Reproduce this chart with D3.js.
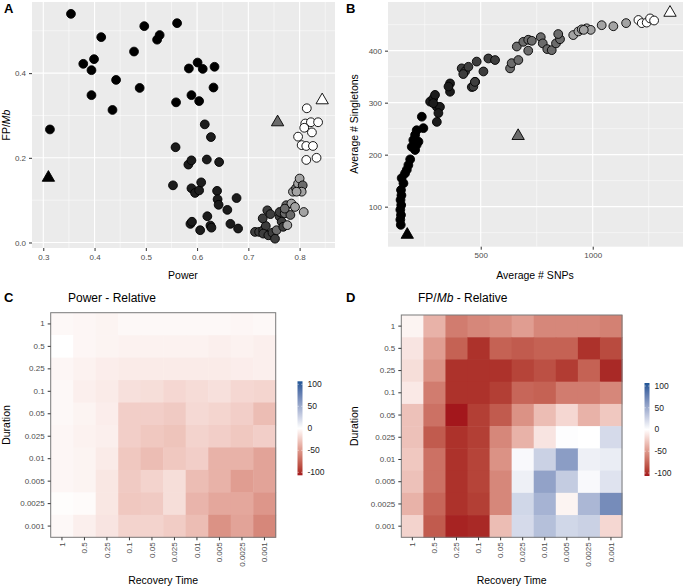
<!DOCTYPE html>
<html><head><meta charset="utf-8">
<script src="https://cdn.jsdelivr.net/npm/d3@7"></script>
<style>
body{margin:0;background:#fff;}
svg{font-family:"Liberation Sans",Arial,sans-serif;}
</style></head>
<body><svg id="c" width="686" height="588"></svg>
<script>
// ---------- Panel A data (Power vs FP/Mb) ----------
const powerA = [0.354,0.313,0.413,0.378,0.399,0.394,0.394,0.442,0.435,0.477,0.488,0.497,0.527,0.522,0.561,0.584,0.601,0.611,0.634,0.559,0.589,0.604,0.632,
  0.615,0.627,0.558,0.583,0.589,0.619,0.643,0.553,0.589,0.596,0.604,0.608,0.639,0.640,0.642,0.659,0.677,0.587,0.590,0.620,0.606,0.626,0.628,0.665,0.680,
  0.713,0.721,0.729,0.734,0.728,0.737,0.743,0.729,0.739,0.747,0.752,0.755,0.761,0.765,0.768,0.761,
  0.771,0.782,0.776,0.774,0.784,0.791,0.771,
  0.787,0.793,0.797,0.800,0.806,0.804,0.794,0.808,
  0.814,0.811,0.822,0.836,0.809,0.824,0.797,0.804,0.813,0.826,0.813,0.833];
const fpA = [0.540,0.267,0.485,0.422,0.433,0.407,0.348,0.384,0.313,0.451,0.365,0.511,0.490,0.479,0.518,0.411,0.425,0.410,0.415,0.331,0.348,0.334,0.366,
  0.279,0.249,0.225,0.184,0.194,0.196,0.190,0.135,0.128,0.117,0.123,0.142,0.122,0.102,0.089,0.077,0.105,0.044,0.049,0.062,0.029,0.040,0.035,0.044,0.033,
  0.025,0.025,0.029,0.039,0.057,0.076,0.067,0.021,0.017,0.023,0.009,0.029,0.061,0.049,0.037,0.072,
  0.069,0.065,0.041,0.088,0.092,0.084,0.080,
  0.120,0.128,0.139,0.151,0.135,0.120,0.120,0.072,
  0.317,0.281,0.284,0.284,0.271,0.260,0.250,0.230,0.228,0.228,0.195,0.200];
const groupA = [0,0,0,0,0,0,0,0,0,0,0,0,0,0,0,0,0,0,0,0,0,0,0,
  1,1,1,1,1,1,1,1,1,1,1,1,1,1,1,1,1,1,1,1,1,1,1,1,1,
  2,2,2,2,2,2,2,2,2,2,2,3,2,2,2,2,
  3,3,4,3,4,4,3,
  4,3,4,4,3,4,4,4,
  5,5,5,5,5,5,5,5,5,5,5,5];
const triPowerA = [0.310,0.757,0.844];
const triFpA = [0.153,0.284,0.336];
const triGroup = [0,3,5];

// ---------- Panel B data (Average # SNPs vs Average # Singletons) ----------
const snpsB = [143,141,144,141,145,142,146,144,155,147,162,170,177,185,192,207,214,199,207,214,222,244,237,
  274,288,296,304,318,311,304,288,363,363,356,
  415,430,422,445,482,534,564,512,475,460,467,474,
  631,638,668,661,690,712,728,712,768,777,797,817,836,854,846,
  913,936,951,973,991,960,1040,1092,1149,
  1204,1219,1241,1256,1274];
const singB = [65,75,84,94,103,113,122,132,145,155,164,171,180,191,215,209,219,228,238,247,225,251,273,
  302,308,315,292,292,280,263,299,337,321,331,
  366,360,355,369,379,385,382,360,340,330,331,340,
  366,376,382,408,417,421,419,400,426,414,403,401,414,422,432,
  430,437,441,443,440,440,449,447,453,
  459,453,454,462,458];
const groupB = [0,0,0,0,0,0,0,0,0,0,0,0,0,0,0,0,0,0,0,0,0,0,0,
  1,1,1,1,1,1,1,1,1,1,1,
  2,2,2,2,2,2,2,2,2,2,2,2,
  3,3,3,3,3,3,3,3,3,3,3,3,3,3,3,
  4,4,4,4,4,4,4,4,4,
  5,5,5,5,5];
const triSnpsB = [172,667,1345];
const triSingB = [46,236,473];

// ---------- Heatmaps ----------
const recovery = ["1","0.5","0.25","0.1","0.05","0.025","0.01","0.005","0.0025","0.001"];
const duration = ["1","0.5","0.25","0.1","0.05","0.025","0.01","0.005","0.0025","0.001"];
const powerRel = [
  [-3,-4,-5,-3,-3,-3,-3,-3,-4,-3],
  [0,-4,-5,-6,-6,-6,-6,-7,-6,-7],
  [-4,-6,-8,-9,-9,-9,-9,-9,-8,-7],
  [-3,-7,-9,-14,-15,-18,-16,-14,-18,-19],
  [-3,-5,-8,-22,-22,-24,-17,-19,-22,-30],
  [-4,-6,-7,-22,-25,-27,-20,-22,-25,-22],
  [-4,-5,-9,-25,-30,-25,-22,-35,-35,-42],
  [-4,-5,-11,-24,-20,-15,-30,-35,-45,-42],
  [-1,-2,-11,-25,-24,-15,-34,-40,-40,-48],
  [-3,-7,-12,-20,-20,-23,-30,-50,-42,-55]];
const fpRel = [
  [-5,-35,-60,-55,-52,-45,-55,-55,-55,-58],
  [-12,-45,-72,-92,-72,-75,-72,-72,-92,-82],
  [-15,-50,-92,-92,-92,-85,-80,-88,-72,-95],
  [-10,-60,-92,-92,-87,-70,-72,-60,-60,-55],
  [-28,-65,-100,-87,-75,-50,-30,-18,-35,-25],
  [-28,-75,-92,-87,-55,-35,-12,1,0,20],
  [-25,-65,-92,-85,-50,3,25,55,8,10],
  [-28,-65,-92,-85,-55,8,52,28,3,15],
  [-35,-70,-92,-87,-55,22,42,-5,40,65],
  [-20,-75,-97,-95,-30,20,35,22,25,-18]];
const legendTicks = [100,50,0,-50,-100];

// ---------- Drawing ----------
const svg = d3.select("#c");
const greyFill = d3.scaleOrdinal().domain([0,1,2,3,4,5]).range(["#000000","#1c1c1c","#3d3d3d","#6b6b6b","#a3a3a3","#ffffff"]);
const tickCol = "#333333", labCol = "#4d4d4d";

function scatterPanel(opt){
  const g = svg.append("g");
  const x = d3.scaleLinear().domain(opt.xd).range([opt.l,opt.r]);
  const y = d3.scaleLinear().domain(opt.yd).range([opt.b,opt.t]);
  g.append("rect").attr("x",opt.l).attr("y",opt.t).attr("width",opt.r-opt.l).attr("height",opt.b-opt.t).attr("fill","#ebebeb");
  const clipId = "clip"+opt.id;
  svg.append("clipPath").attr("id",clipId).append("rect").attr("x",opt.l).attr("y",opt.t).attr("width",opt.r-opt.l).attr("height",opt.b-opt.t);
  opt.xminor.forEach(v=>g.append("line").attr("x1",x(v)).attr("x2",x(v)).attr("y1",opt.t).attr("y2",opt.b).attr("stroke","#fff").attr("stroke-width",0.5));
  opt.yminor.forEach(v=>g.append("line").attr("y1",y(v)).attr("y2",y(v)).attr("x1",opt.l).attr("x2",opt.r).attr("stroke","#fff").attr("stroke-width",0.5));
  opt.xt.forEach(v=>g.append("line").attr("x1",x(v)).attr("x2",x(v)).attr("y1",opt.t).attr("y2",opt.b).attr("stroke","#fff").attr("stroke-width",1.1));
  opt.yt.forEach(v=>g.append("line").attr("y1",y(v)).attr("y2",y(v)).attr("x1",opt.l).attr("x2",opt.r).attr("stroke","#fff").attr("stroke-width",1.1));
  const xa = g.append("g").attr("transform",`translate(0,${opt.b})`).call(d3.axisBottom(x).tickValues(opt.xt).tickFormat(opt.xf).tickSize(3).tickPadding(3));
  const ya = g.append("g").attr("transform",`translate(${opt.l},0)`).call(d3.axisLeft(y).tickValues(opt.yt).tickFormat(opt.yf).tickSize(3).tickPadding(3));
  [xa,ya].forEach(a=>{a.select(".domain").remove();a.selectAll("line").attr("stroke",tickCol);a.selectAll("text").attr("fill",labCol).style("font-size","8px").style("font-family","Liberation Sans, Arial, sans-serif");});
  const pts = g.append("g").attr("clip-path",`url(#${clipId})`);
  opt.xs.forEach((v,i)=>{
    pts.append("circle").attr("cx",x(v)).attr("cy",y(opt.ys[i])).attr("r",4.4)
      .attr("fill",greyFill(opt.gs[i])).attr("stroke","#000").attr("stroke-width",0.9);
  });
  const tri = d3.symbol().type(d3.symbolTriangle).size(66);
  opt.txs.forEach((v,i)=>{
    pts.append("path").attr("d",tri).attr("transform",`translate(${x(v)},${y(opt.tys[i])})`)
      .attr("fill",greyFill(opt.tgs[i])).attr("stroke","#000").attr("stroke-width",0.9);
  });
  return {g,x,y};
}

scatterPanel({id:"A",l:32,r:335,t:2,b:248,xd:[0.278,0.869],yd:[-0.013,0.568],
  xt:[0.3,0.4,0.5,0.6,0.7,0.8],yt:[0,0.2,0.4],xminor:[0.35,0.45,0.55,0.65,0.75,0.85],yminor:[0.1,0.3,0.5],
  xf:d3.format(".1f"),yf:d3.format(".1f"),xs:powerA,ys:fpA,gs:groupA,txs:triPowerA,tys:triFpA,tgs:triGroup});
scatterPanel({id:"B",l:388,r:683,t:2,b:246.7,xd:[86,1403],yd:[23,493.6],
  xt:[500,1000],yt:[100,200,300,400],xminor:[250,750,1250],yminor:[50,150,250,350,450],
  xf:d3.format("d"),yf:d3.format("d"),xs:snpsB,ys:singB,gs:groupB,txs:triSnpsB,tys:triSingB,tgs:triGroup});

svg.append("text").attr("x",183).attr("y",279).attr("text-anchor","middle").style("font-size","10.5px").text("Power");
const fpLab = svg.append("text").attr("transform","translate(10,125) rotate(-90)").attr("text-anchor","middle").style("font-size","10.5px");
fpLab.append("tspan").text("FP/");
fpLab.append("tspan").style("font-style","italic").text("Mb");
svg.append("text").attr("x",535).attr("y",279).attr("text-anchor","middle").style("font-size","10.5px").text("Average # SNPs");
svg.append("text").attr("transform","translate(358,124) rotate(-90)").attr("text-anchor","middle").style("font-size","10.5px").text("Average # Singletons");

[["A",4,13],["B",346,13],["C",4,302],["D",346,302]].forEach(d=>{
  svg.append("text").attr("x",d[1]).attr("y",d[2]).style("font-size","13px").style("font-weight","bold").text(d[0]);
});

const heatColor = d3.scaleLinear().domain([-100,0,100]).range(["#a3171c","#ffffff","#1f5596"]).interpolate(d3.interpolateLab).clamp(true);

function heatPanel(opt){
  const g = svg.append("g");
  const x = d3.scaleBand().domain(recovery).range([opt.l,opt.r]);
  const y = d3.scaleBand().domain(duration).range([opt.t,opt.b]);
  opt.vals.forEach((row,i)=>row.forEach((v,j)=>{
    g.append("rect").attr("x",x(recovery[j])).attr("y",y(duration[i])).attr("width",x.bandwidth()+0.5).attr("height",y.bandwidth()+0.5).attr("fill",heatColor(v));
  }));
  g.append("rect").attr("x",opt.l).attr("y",opt.t).attr("width",opt.r-opt.l).attr("height",opt.b-opt.t).attr("fill","none").attr("stroke","#7a7a7a").attr("stroke-width",1);
  const xa = g.append("g").attr("transform",`translate(0,${opt.b})`).call(d3.axisBottom(x).tickSize(3).tickPadding(3));
  const ya = g.append("g").attr("transform",`translate(${opt.l},0)`).call(d3.axisLeft(y).tickSize(3).tickPadding(3));
  [xa,ya].forEach(a=>{a.select(".domain").remove();a.selectAll("line").attr("stroke",tickCol);a.selectAll("text").attr("fill",labCol).style("font-size","8px").style("font-family","Liberation Sans, Arial, sans-serif");});
  xa.selectAll("text").attr("transform","rotate(-90)").attr("text-anchor","end").attr("dy","0.32em").attr("x",-5).attr("y",0);
  svg.append("text").attr("x",(opt.l+opt.r)/2).attr("y",584).attr("text-anchor","middle").style("font-size","10.5px").text("Recovery Time");
  svg.append("text").attr("transform",`translate(${opt.dx},${(opt.t+opt.b)/2}) rotate(-90)`).attr("text-anchor","middle").style("font-size","10.5px").text("Duration");
  const ly = d3.scaleLinear().domain([-100,100]).range([opt.lb,opt.lt]);
  const defs = svg.append("defs");
  const gid = "grad"+opt.id;
  const grad = defs.append("linearGradient").attr("id",gid).attr("x1",0).attr("x2",0).attr("y1",1).attr("y2",0);
  d3.range(-100,101,10).forEach(v=>grad.append("stop").attr("offset",(v+100)/200).attr("stop-color",heatColor(v)));
  g.append("rect").attr("x",opt.lx).attr("y",opt.lt-3).attr("width",5).attr("height",opt.lb-opt.lt+6).attr("fill",`url(#${gid})`);
  legendTicks.forEach(v=>{
    g.append("line").attr("x1",opt.lx).attr("x2",opt.lx+1.2).attr("y1",ly(v)).attr("y2",ly(v)).attr("stroke","#fff").attr("stroke-width",0.6);
    g.append("line").attr("x1",opt.lx+3.8).attr("x2",opt.lx+5).attr("y1",ly(v)).attr("y2",ly(v)).attr("stroke","#fff").attr("stroke-width",0.6);
    g.append("text").attr("x",opt.lx+10).attr("y",ly(v)).attr("dy","0.35em").style("font-size","8.5px").attr("fill","#222").text(String(v));
  });
  return g;
}

heatPanel({id:"C",l:50.7,r:275.7,t:312.7,b:537.3,vals:powerRel,dx:10,lx:297.5,lt:384.3,lb:472.3});
heatPanel({id:"D",l:401.3,r:622,t:315,b:537.3,vals:fpRel,dx:358,lx:644.5,lt:386,lb:473});

svg.append("text").attr("x",68).attr("y",302).style("font-size","12px").text("Power - Relative");
const tD = svg.append("text").attr("x",418).attr("y",302).style("font-size","12px");
tD.append("tspan").text("FP/");
tD.append("tspan").style("font-style","italic").text("Mb");
tD.append("tspan").text(" - Relative");
</script></body></html>
